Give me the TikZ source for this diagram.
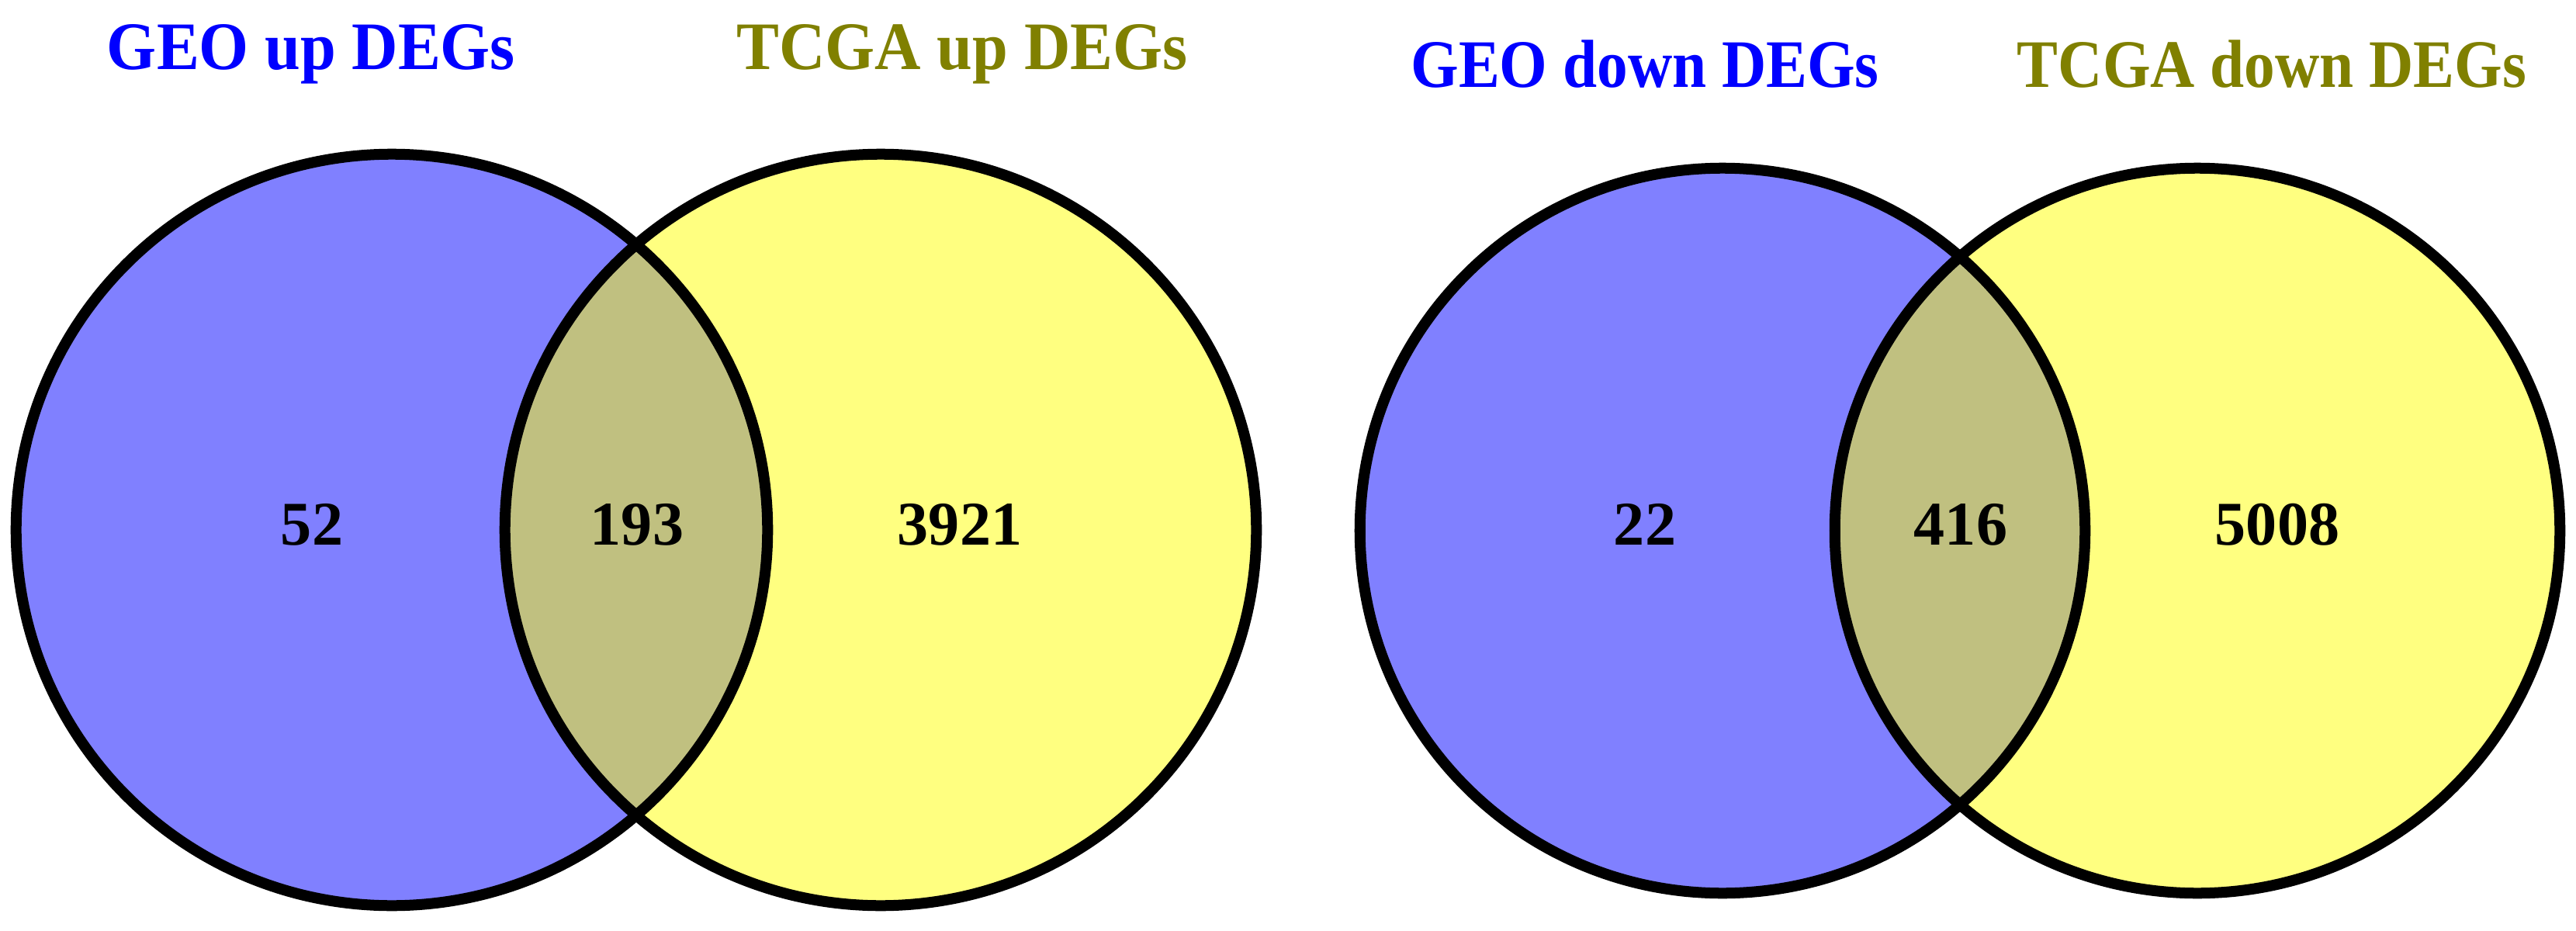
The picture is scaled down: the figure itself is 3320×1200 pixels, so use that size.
\documentclass[tikz,border=0pt]{standalone}
\usepackage{fontspec}
\setmainfont{Liberation Serif}
\definecolor{setblue}{HTML}{8080FF}
\definecolor{setyellow}{HTML}{FFFF80}
\definecolor{setmix}{HTML}{C0C080}
\definecolor{titleblue}{HTML}{0000FF}
\definecolor{titleolive}{HTML}{808000}
\begin{document}
\begin{tikzpicture}[x=0.01cm,y=-0.01cm,
  setline/.style={line width=0.14cm, draw=black},
  setA/.style={circle, inner sep=0, minimum size=9.68cm, fill=setblue},
  setB/.style={circle, inner sep=0, minimum size=9.68cm, fill=setyellow},
  count/.style={font=\fontsize{22.8}{26}\selectfont\bfseries, anchor=base, inner sep=0},
  title/.style={font=\fontsize{24.9}{29}\selectfont\bfseries, anchor=base, inner sep=0}]
\useasboundingbox (0,0) rectangle (3320,1200);

% ---- up DEGs ----
\node[setA] (A) at (505,683) {};
\node[setB] (B) at (1135,683) {};
\begin{scope}
  \clip (A.center) circle[radius=4.84cm];
  \fill[setmix] (B.center) circle[radius=4.84cm];
\end{scope}
\draw[setline] (A.center) circle[radius=4.84cm];
\draw[setline] (B.center) circle[radius=4.84cm];

% ---- down DEGs ----
\node[setA, minimum size=9.34cm] (C) at (2220,684) {};
\node[setB, minimum size=9.34cm] (D) at (2832,684) {};
\begin{scope}
  \clip (C.center) circle[radius=4.67cm];
  \fill[setmix] (D.center) circle[radius=4.67cm];
\end{scope}
\draw[setline] (C.center) circle[radius=4.67cm];
\draw[setline] (D.center) circle[radius=4.67cm];

% ---- counts ----
\node[count] (nA)  at (402,702)  {52};
\node[count] (nAB) at (821,702)  {193};
\node[count] (nB)  at (1237,702) {3921};
\node[count] (nC)  at (2120,702) {22};
\node[count] (nCD) at (2527,702) {416};
\node[count] (nD)  at (2935,702) {5008};

% ---- titles ----
\node[title, text=titleblue]  (tA) at (401,89)   {\scalebox{0.94}[1]{GEO up DEGs}};
\node[title, text=titleolive] (tB) at (1240,89)  {\scalebox{0.94}[1]{TCGA up DEGs}};
\node[title, text=titleblue]  (tC) at (2120,112) {\scalebox{0.905}[1]{GEO down DEGs}};
\node[title, text=titleolive] (tD) at (2928,112) {\scalebox{0.905}[1]{TCGA down DEGs}};
\end{tikzpicture}
\end{document}
